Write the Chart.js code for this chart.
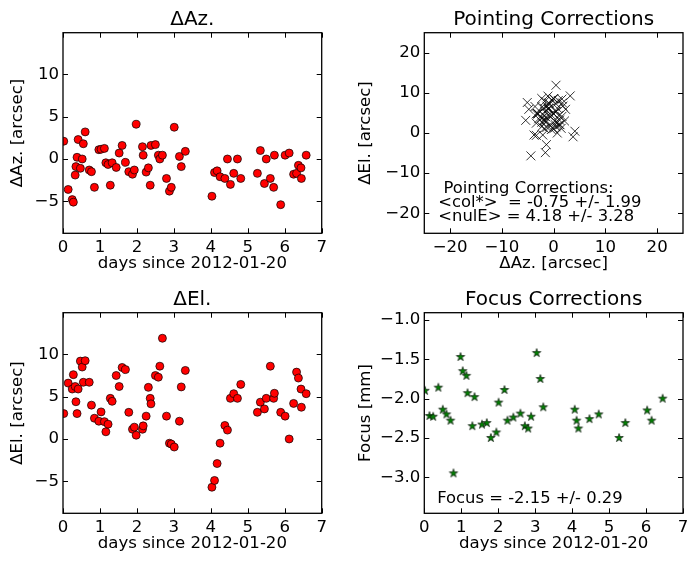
<!DOCTYPE html>
<html>
<head>
<meta charset="utf-8">
<script src="https://cdn.jsdelivr.net/npm/chart.js@4"></script>
<style>
body { margin: 0; background: #fff; width: 696px; height: 562px; position: relative; overflow: hidden; }
canvas { position: absolute; }
</style>
</head>
<body>
<canvas id="azChart" width="348" height="280" style="left:0;top:0"></canvas>
<canvas id="pointChart" width="348" height="280" style="left:348px;top:0"></canvas>
<canvas id="elChart" width="348" height="280" style="left:0;top:280px"></canvas>
<canvas id="focusChart" width="348" height="280" style="left:348px;top:280px"></canvas>
<script>
// pointing observations (days since 2012-01-20)
const days = [0.02, 0.14, 0.25, 0.28, 0.33, 0.35, 0.38, 0.41, 0.47, 0.52, 0.55, 0.60, 0.71, 0.77, 0.85,
  0.97, 1.03, 1.12, 1.16, 1.22, 1.28, 1.33, 1.44, 1.52, 1.60, 1.69, 1.78, 1.88, 1.93, 1.98,
  2.15, 2.17, 2.25, 2.31, 2.36, 2.38, 2.50, 2.58, 2.62, 2.69, 2.80, 2.88, 2.93, 3.01, 3.15, 3.20, 3.31,
  4.03, 4.10, 4.17, 4.25, 4.38, 4.45, 4.53, 4.62, 4.72, 4.81,
  5.26, 5.34, 5.45, 5.50, 5.61, 5.70, 5.72, 5.89, 6.01, 6.12, 6.24, 6.32, 6.37, 6.44, 6.45, 6.58];
const deltaAz = [2.1, -3.6, -4.8, -5.1, -1.9, -0.9, 0.2, 2.3, -1.1, 0.0, 1.8, 3.2, -1.3, -1.5, -3.35,
  1.1, 1.15, 1.25, -0.45, -0.65, -3.1, -0.45, -1.0, 0.7, 1.6, -0.4, -1.5, -1.8, -1.3, 4.1,
  1.45, 0.45, -1.55, -1.05, -3.1, 1.6, 1.7, 0.45, 0.0, 0.45, -2.3, -3.8, -3.35, 3.75, 0.3, -0.9, 0.9,
  -4.4, -1.6, -1.4, -2.1, -2.3, 0.0, -3.0, -1.7, 0.0, -2.3,
  -1.7, 1.0, -2.9, 0.0, -2.3, -3.35, 0.45, -5.4, 0.45, 0.7, -1.8, -1.7, -0.75, -1.05, -2.3, 0.45];
const deltaEl = [3.0, 6.6, 5.9, 7.6, 6.2, 4.4, 3.0, 5.9, 9.2, 8.5, 6.7, 9.25, 6.7, 4.0, 2.45,
  2.1, 3.2, 2.05, 0.85, 1.75, 4.8, 4.45, 7.5, 6.2, 8.45, 8.2, 3.15, 1.15, 1.4, 0.45,
  1.15, 1.55, 2.7, 6.1, 4.8, 4.15, 7.5, 7.3, 8.6, 11.9, 2.7, -0.5, -0.6, -0.95, 2.1, 6.15, 8.1,
  -5.7, -4.9, -2.9, -0.5, 1.6, 1.05, 4.8, 5.35, 4.8, 6.45,
  3.15, 4.35, 3.55, 4.8, 8.6, 4.8, 5.4, 3.15, 2.7, 0.0, 4.2, 7.9, 7.2, 5.9, 3.75, 5.35];

// focus observations
const focusDays = [0.02, 0.14, 0.24, 0.38, 0.50, 0.60, 0.71, 0.79, 0.98, 1.04, 1.14, 1.17, 1.30, 1.36,
  1.56, 1.69, 1.80, 1.95, 2.01, 2.17, 2.25, 2.41, 2.60, 2.72, 2.81, 2.89, 3.04, 3.14, 3.22,
  4.07, 4.12, 4.17, 4.47, 4.72, 5.27, 5.44, 6.03, 6.15, 6.45];
const focus = [-1.90, -2.22, -2.23, -1.86, -2.14, -2.20, -2.28, -2.95, -1.47, -1.65, -1.71, -1.93, -2.35, -1.98,
  -2.33, -2.31, -2.50, -2.43, -2.05, -1.89, -2.28, -2.24, -2.19, -2.35, -2.38, -2.23, -1.42, -1.75, -2.11,
  -2.14, -2.28, -2.38, -2.26, -2.20, -2.50, -2.31, -2.15, -2.28, -2.00];

// tick values
const dayTicks = [0, 1, 2, 3, 4, 5, 6, 7];
const offsetTicks = [-5, 0, 5, 10];
const pointTicks = [-20, -10, 0, 10, 20];
const focusTicks = [-3.0, -2.5, -2.0, -1.5, -1.0];

const pointingNote = [' Pointing Corrections:', '<col*>  = -0.75 +/- 1.99', '<nulE> = 4.18 +/- 3.28'];
const focusNote = ['Focus = -2.15 +/- 0.29'];

Chart.defaults.font.family = 'DejaVu Sans';
Chart.defaults.font.size = 16.6;
Chart.defaults.color = '#000';

const minus = s => String(s).replace('-', '\u2212');

// matplotlib style frame with inward ticks on all four sides
const frame = {
  id: 'frame',
  afterDraw(chart) {
    const {ctx, chartArea: a, scales: {x, y}} = chart;
    ctx.save();
    ctx.strokeStyle = '#000';
    ctx.lineWidth = 1;
    ctx.beginPath();
    x.ticks.forEach(t => {
      const px = Math.round(x.getPixelForValue(t.value)) + 0.5;
      ctx.moveTo(px, a.bottom); ctx.lineTo(px, a.bottom - 5);
      ctx.moveTo(px, a.top); ctx.lineTo(px, a.top + 5);
    });
    y.ticks.forEach(t => {
      const py = Math.round(y.getPixelForValue(t.value)) + 0.5;
      ctx.moveTo(a.left, py); ctx.lineTo(a.left + 5, py);
      ctx.moveTo(a.right, py); ctx.lineTo(a.right - 5, py);
    });
    ctx.stroke();
    ctx.lineWidth = 1.3;
    ctx.strokeRect(a.left, a.top, a.right - a.left, a.bottom - a.top);
    ctx.restore();
  }
};

// text annotation anchored in data coordinates
const note = {
  id: 'note',
  afterDraw(chart, args, opts) {
    if (!opts.lines) return;
    const {ctx, scales: {x, y}} = chart;
    const px = x.getPixelForValue(opts.x);
    const py = y.getPixelForValue(opts.y);
    ctx.save();
    ctx.font = '16.4px "DejaVu Sans"';
    ctx.fillStyle = '#000';
    ctx.textBaseline = 'middle';
    opts.lines.forEach((line, i) => ctx.fillText(line, px, py + i * 14));
    ctx.restore();
  }
};

function starImage() {
  const c = document.createElement('canvas');
  c.width = 12; c.height = 12;
  const g = c.getContext('2d');
  g.beginPath();
  for (let i = 0; i < 10; i++) {
    const r = i % 2 ? 1.7 : 4.5;
    const ang = -Math.PI / 2 + i * Math.PI / 5;
    g.lineTo(6 + r * Math.cos(ang), 6 + r * Math.sin(ang));
  }
  g.closePath();
  g.fillStyle = '#008000';
  g.fill();
  g.lineWidth = 0.6;
  g.strokeStyle = '#000';
  g.stroke();
  return c;
}

function axis(label, min, max, tickList, size, vertical, decimals) {
  return {
    type: 'linear', min, max,
    grid: {display: false, drawTicks: false},
    border: {display: false},
    afterBuildTicks: s => { s.ticks = tickList.map(v => ({value: v})); },
    ticks: {
      autoSkip: false, maxRotation: 0, padding: 4,
      callback: v => minus(decimals ? v.toFixed(decimals) : v)
    },
    title: {
      display: true, text: label, font: {lineHeight: 1.2},
      padding: vertical ? {top: 8, bottom: 0} : {top: 0, bottom: 6}
    },
    afterFit: s => { if (vertical) s.width = size; else s.height = size; }
  };
}

function makeChart(id, title, dataset, xAxis, yAxis, rightPad, noteOpts) {
  return new Chart(document.getElementById(id), {
    type: 'scatter',
    data: {datasets: [dataset]},
    options: {
      responsive: false,
      animation: false,
      events: [],
      layout: {padding: {left: 0, right: rightPad, top: 0, bottom: 0}},
      scales: {x: xAxis, y: yAxis},
      plugins: {
        legend: {display: false},
        tooltip: {enabled: false},
        title: {
          display: true, text: title, color: '#000', fullSize: false,
          font: {size: 20, weight: 'normal', lineHeight: 1.2},
          padding: {top: 8, bottom: 0.7}
        },
        note: noteOpts || {}
      }
    },
    plugins: [frame, note]
  });
}

const redDots = (ys) => ({
  data: days.map((d, i) => ({x: d, y: ys[i]})),
  backgroundColor: '#ff0000',
  borderColor: '#000',
  borderWidth: 0.7,
  pointRadius: 4,
  clip: 0
});

const lim = [-8.78, 14.92];
const dayLabel = 'days since 2012-01-20';

makeChart('azChart', '\u0394Az.', redDots(deltaAz),
  axis(dayLabel, 0, 7, dayTicks, 46.7, false),
  axis('\u0394Az. [arcsec]', lim[0], lim[1], offsetTicks, 63, true), 26.3);

makeChart('elChart', '\u0394El.', redDots(deltaEl),
  axis(dayLabel, 0, 7, dayTicks, 46.7, false),
  axis('\u0394El. [arcsec]', lim[0], lim[1], offsetTicks, 63, true), 26.3);

makeChart('pointChart', 'Pointing Corrections', {
    data: deltaAz.map((a, i) => ({x: a, y: deltaEl[i]})),
    pointStyle: 'crossRot',
    borderColor: '#000',
    backgroundColor: '#000',
    borderWidth: 0.8,
    pointRadius: 6.3,
    clip: 0
  },
  axis('\u0394Az. [arcsec]', -25, 25, pointTicks, 46.7, false),
  axis('\u0394El. [arcsec]', -25, 25, pointTicks, 76.3, true), 13,
  {x: -22.3, y: -14, lines: pointingNote});

makeChart('focusChart', 'Focus Corrections', {
    data: focusDays.map((d, i) => ({x: d, y: focus[i]})),
    pointStyle: starImage(),
    pointRadius: 5,
    clip: 0
  },
  axis(dayLabel, 0, 7, dayTicks, 46.7, false),
  axis('Focus [mm]', -3.458, -0.907, focusTicks, 76.3, true, 1), 13,
  {x: 0.35, y: -3.27, lines: focusNote});
</script>
</body>
</html>
